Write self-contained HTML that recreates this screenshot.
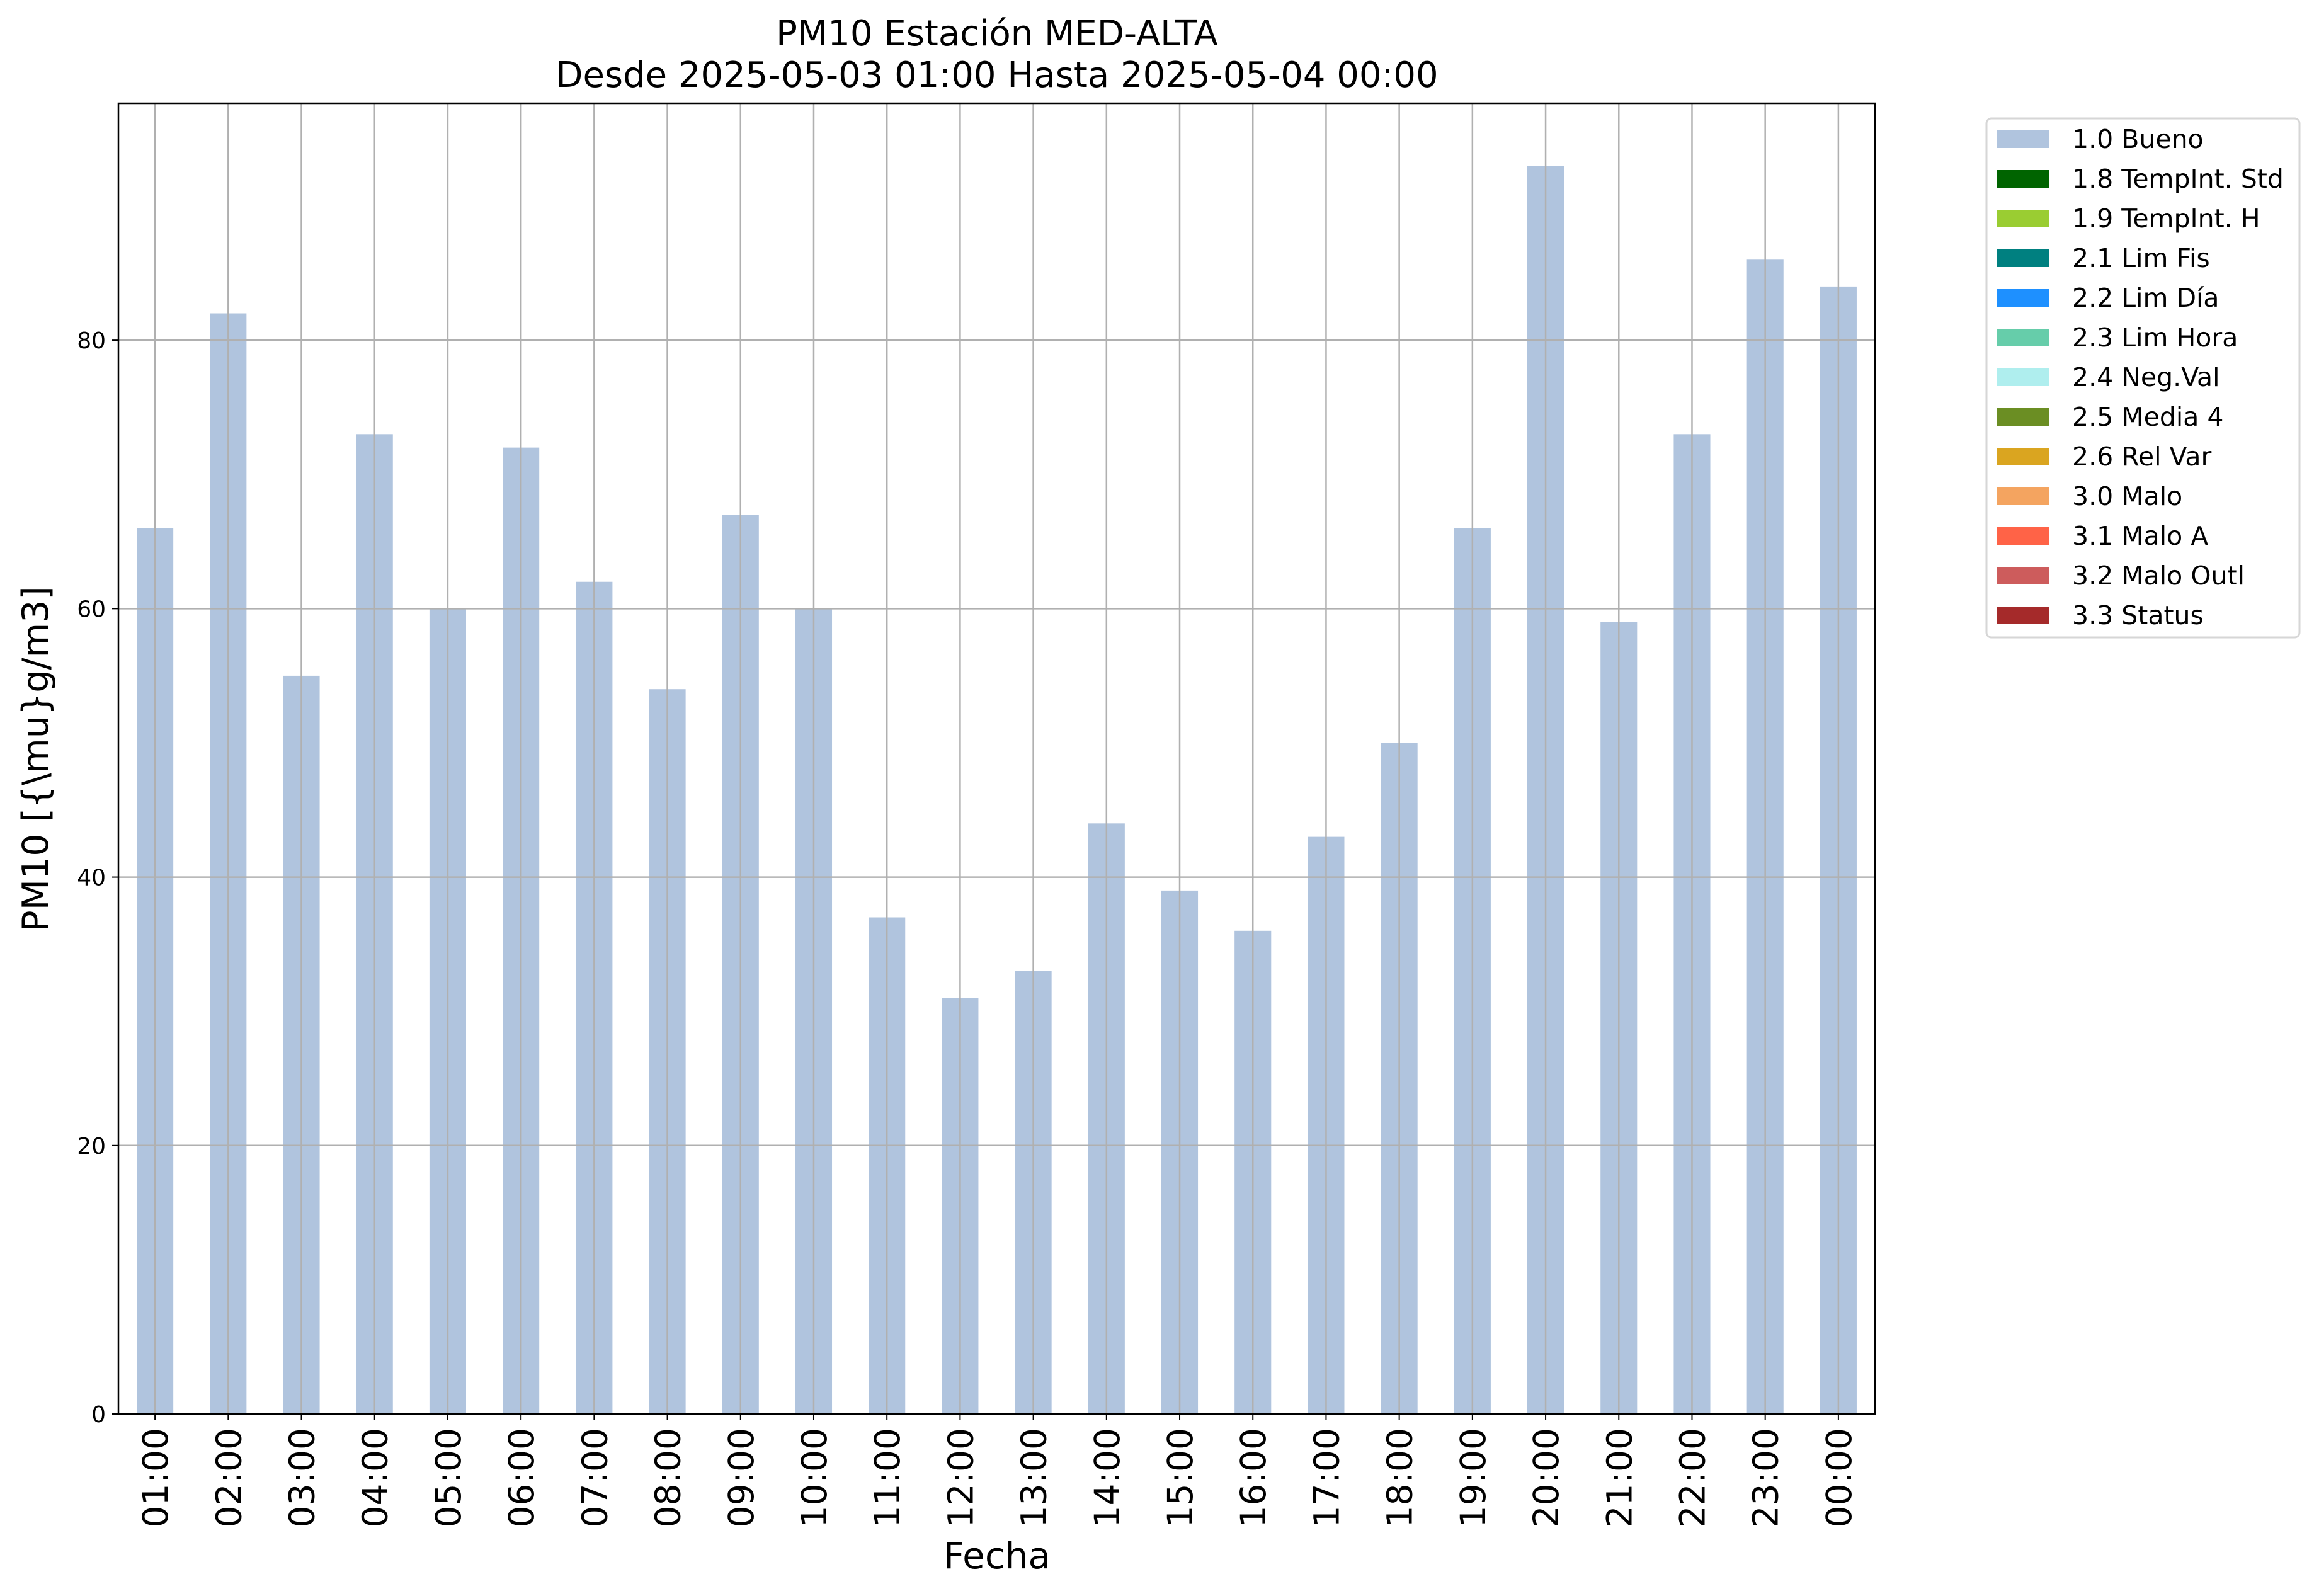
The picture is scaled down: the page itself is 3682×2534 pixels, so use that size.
<!DOCTYPE html>
<html><head><meta charset="utf-8"><style>
html,body{margin:0;padding:0;background:#fff;}
svg{display:block;font-family:"DejaVu Sans","Liberation Sans",sans-serif;}
</style></head><body>
<svg id="chart" width="3682" height="2534" viewBox="0 0 3682 2534">
<rect width="3682" height="2534" fill="#fff"/>
<text x="1583" y="72" font-size="56" text-anchor="middle">PM10 Estación MED-ALTA</text>
<text x="1583" y="138" font-size="56" text-anchor="middle">Desde 2025-05-03 01:00 Hasta 2025-05-04 00:00</text>
<g id="bars"></g>
<g id="grid"></g>
<g id="axes"></g>
<text x="1583" y="2490" font-size="58" text-anchor="middle">Fecha</text>
<text transform="translate(76,1205) rotate(-90)" font-size="57" text-anchor="middle">PM10 [{\mu}g/m3]</text>
<g id="legend"></g>
</svg>
<script>
const categories = ["01:00","02:00","03:00","04:00","05:00","06:00","07:00","08:00","09:00","10:00","11:00","12:00","13:00","14:00","15:00","16:00","17:00","18:00","19:00","20:00","21:00","22:00","23:00","00:00"];
const values = [66,82,55,73,60,72,62,54,67,60,37,31,33,44,39,36,43,50,66,93,59,73,86,84];
const yTicks = [0,20,40,60,80];
const legendLabels = ["1.0 Bueno","1.8 TempInt. Std","1.9 TempInt. H","2.1 Lim Fis","2.2 Lim Día","2.3 Lim Hora","2.4 Neg.Val","2.5 Media 4","2.6 Rel Var","3.0 Malo","3.1 Malo A","3.2 Malo Outl","3.3 Status"];
const legendColors = ["#b0c4de","#006400","#9acd32","#008080","#1e90ff","#66cdaa","#afeeee","#6b8e23","#daa520","#f4a460","#ff6347","#cd5c5c","#a52a2a"];

const NS="http://www.w3.org/2000/svg";
const L=188,R=2977,T=164,B=2245;
const yMax=Math.max(...values)*1.05;
const step=(R-L)/categories.length;
const xc=i=>L+step*(i+0.5);
const y=v=>B-(v/yMax)*(B-T);
function mk(tag,attrs,parent){const e=document.createElementNS(NS,tag);for(const k in attrs)e.setAttribute(k,attrs[k]);parent.appendChild(e);return e;}
const bars=document.getElementById('bars'),grid=document.getElementById('grid'),axes=document.getElementById('axes'),legend=document.getElementById('legend');
values.forEach((v,i)=>{
  const r=mk('rect',{x:xc(i)-step*0.25,y:y(v),width:step*0.5,height:B-y(v),fill:legendColors[0]},bars);
  
  
});
categories.forEach((c,i)=>{
  const g=mk('line',{x1:xc(i),x2:xc(i),y1:T,y2:B,stroke:'#b0b0b0','stroke-width':2.5},grid);
  
  
  const t=mk('line',{x1:xc(i),x2:xc(i),y1:B,y2:B+10,stroke:'#000','stroke-width':2},axes);
  
  
  const lb=mk('text',{transform:`translate(${xc(i)+20},${B+22}) rotate(-90)`,'font-size':55,'text-anchor':'end'},axes);
  lb.textContent=c;
  
  
});
yTicks.forEach(v=>{
  if(v>0){const g=mk('line',{x1:L,x2:R,y1:y(v),y2:y(v),stroke:'#b0b0b0','stroke-width':2.5},grid);
  
  }
  const t=mk('line',{x1:L-10,x2:L,y1:y(v),y2:y(v),stroke:'#000','stroke-width':2},axes);
  
  
  const lb=mk('text',{x:L-20,y:y(v)+13,'font-size':36,'text-anchor':'end'},axes);
  lb.textContent=v;
  
  
});
const frame=mk('rect',{x:L,y:T,width:R-L,height:B-T,fill:'none',stroke:'#000','stroke-width':2.5},axes);


const box=mk('rect',{x:3154,y:188,width:497,height:824,rx:8,fill:'#fff',stroke:'#d6d6d6','stroke-width':3},legend);


legendLabels.forEach((lab,i)=>{
  const cy=221+i*63;
  const p=mk('rect',{x:3170,y:cy-14,width:84,height:28,fill:legendColors[i]},legend);
  
  
  const t=mk('text',{x:3290,y:cy+14,'font-size':41},legend);
  t.textContent=lab;
  
  
});
</script>
</body></html>
